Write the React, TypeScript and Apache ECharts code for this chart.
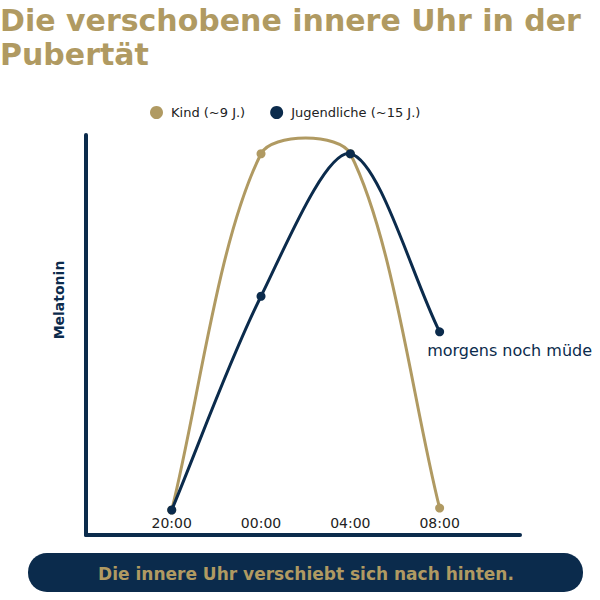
import React, { useEffect, useRef } from "react";
import * as echarts from "echarts";

const timeLabels = ["20:00", "00:00", "04:00", "08:00"];
const kindValues = [0, 95, 95, 0.5];
const jugendValues = [0, 57, 95, 47.5];
const seriesNames = ["Kind (~9 J.)", "Jugendliche (~15 J.)"];
const noteText = "morgens noch müde";
const titleText = "Die verschobene innere Uhr in der\nPubertät";
const bannerText = "Die innere Uhr verschiebt sich nach hinten.";

const GOLD = "#b09a62";
const NAVY = "#0b2b4c";
const FONT = "'DejaVu Sans', sans-serif";
const TENSION = 0.3;

// Cardinal-spline path (Chart.js style) through pixel points
function splinePath(pts: number[][], t: number): string {
  const n = pts.length;
  const cps: { prev: number[]; next: number[] }[] = [];
  for (let i = 0; i < n; i++) {
    const p = pts[i];
    const a = pts[i - 1] || p;
    const b = pts[i + 1] || p;
    const d01 = Math.hypot(p[0] - a[0], p[1] - a[1]);
    const d12 = Math.hypot(b[0] - p[0], b[1] - p[1]);
    const sum = d01 + d12 || 1;
    const fa = (t * d01) / sum;
    const fb = (t * d12) / sum;
    cps.push({
      prev: [p[0] - fa * (b[0] - a[0]), p[1] - fa * (b[1] - a[1])],
      next: [p[0] + fb * (b[0] - a[0]), p[1] + fb * (b[1] - a[1])],
    });
  }
  let d = `M${pts[0][0]},${pts[0][1]}`;
  for (let i = 1; i < n; i++) {
    const c1 = cps[i - 1].next;
    const c2 = cps[i].prev;
    d += ` C${c1[0]},${c1[1]} ${c2[0]},${c2[1]} ${pts[i][0]},${pts[i][1]}`;
  }
  return d;
}

function curveSeries(name: string, values: number[], color: string, z: number) {
  return {
    name,
    type: "custom",
    z,
    data: values.map((v, i) => [i, v]),
    renderItem: (params: any, api: any) => {
      if (params.dataIndex !== 0) return null;
      const pts = values.map((v, i) => api.coord([i, v]));
      return {
        type: "path",
        shape: { pathData: splinePath(pts, TENSION) },
        style: { fill: "none", stroke: color, lineWidth: 3 },
      };
    },
    silent: true,
  };
}

export default function App() {
  const ref = useRef<HTMLDivElement>(null);
  useEffect(() => {
    if (!ref.current) return;
    const chart = echarts.init(ref.current, null, { renderer: "svg" });
    chart.setOption({
      animation: false,
      backgroundColor: "#ffffff",
      title: {
        text: titleText,
        left: 0,
        top: 3,
        padding: 0,
        textStyle: {
          color: GOLD,
          fontFamily: FONT,
          fontWeight: "bold",
          fontSize: 30,
          lineHeight: 34,
        },
      },
      legend: {
        top: 101,
        left: 145,
        itemGap: 25,
        itemWidth: 13,
        itemHeight: 13,
        icon: "circle",
        textStyle: { color: "#222", fontFamily: FONT, fontSize: 13, padding: [0, 0, 0, 3] },
        data: seriesNames,
      },
      grid: { left: 86, right: 80, top: 135, bottom: 65, containLabel: false },
      xAxis: {
        type: "value",
        min: -0.96,
        max: 3.9,
        axisLine: { show: true, onZero: false, lineStyle: { color: NAVY, width: 4 } },
        axisTick: { show: false },
        splitLine: { show: false },
        axisLabel: {
          customValues: [0, 1, 2, 3],
          formatter: (v: number) => timeLabels[Math.round(v)] ?? "",
          color: "#222",
          fontFamily: FONT,
          fontSize: 14,
          margin: -19,
        },
      },
      yAxis: {
        type: "value",
        min: -6.67,
        max: 100,
        name: "Melatonin",
        nameLocation: "middle",
        nameGap: 20,
        nameTextStyle: {
          color: NAVY,
          fontFamily: FONT,
          fontWeight: "bold",
          fontSize: 14,
          padding: [0, 0, 0, 70],
        },
        axisLine: { show: true, onZero: false, lineStyle: { color: NAVY, width: 4 } },
        axisTick: { show: false },
        axisLabel: { show: false },
        splitLine: { show: false },
      },
      series: [
        {
          name: seriesNames[0],
          type: "scatter",
          z: 3,
          data: kindValues.map((v, i) => [i, v]),
          symbol: "circle",
          symbolSize: 9,
          itemStyle: { color: GOLD, opacity: 1 },
        },
        curveSeries(seriesNames[0], kindValues, GOLD, 2),
        {
          name: seriesNames[1],
          type: "scatter",
          z: 5,
          data: jugendValues.map((v, i) =>
            i === jugendValues.length - 1
              ? {
                  value: [i, v],
                  label: {
                    show: true,
                    formatter: noteText,
                    position: [-8, 15],
                    align: "left",
                    verticalAlign: "top",
                    color: NAVY,
                    fontFamily: FONT,
                    fontSize: 16,
                  },
                }
              : [i, v]
          ),
          symbol: "circle",
          symbolSize: 9,
          itemStyle: { color: NAVY, opacity: 1 },
        },
        curveSeries(seriesNames[1], jugendValues, NAVY, 4),
      ],
      graphic: [
        {
          type: "group",
          children: [
            {
              type: "rect",
              shape: { x: 28, y: 553, width: 555, height: 39, r: 19 },
              style: { fill: NAVY },
            },
            {
              type: "text",
              x: 306,
              y: 574,
              style: {
                text: bannerText,
                fill: GOLD,
                font: `bold 17px ${FONT}`,
                align: "center",
                verticalAlign: "middle",
              },
            },
          ],
        },
      ],
    });
    return () => chart.dispose();
  }, []);
  return (
    <div
      ref={ref}
      style={{ position: "absolute", left: 0, top: 0, width: 600, height: 600 }}
    />
  );
}
